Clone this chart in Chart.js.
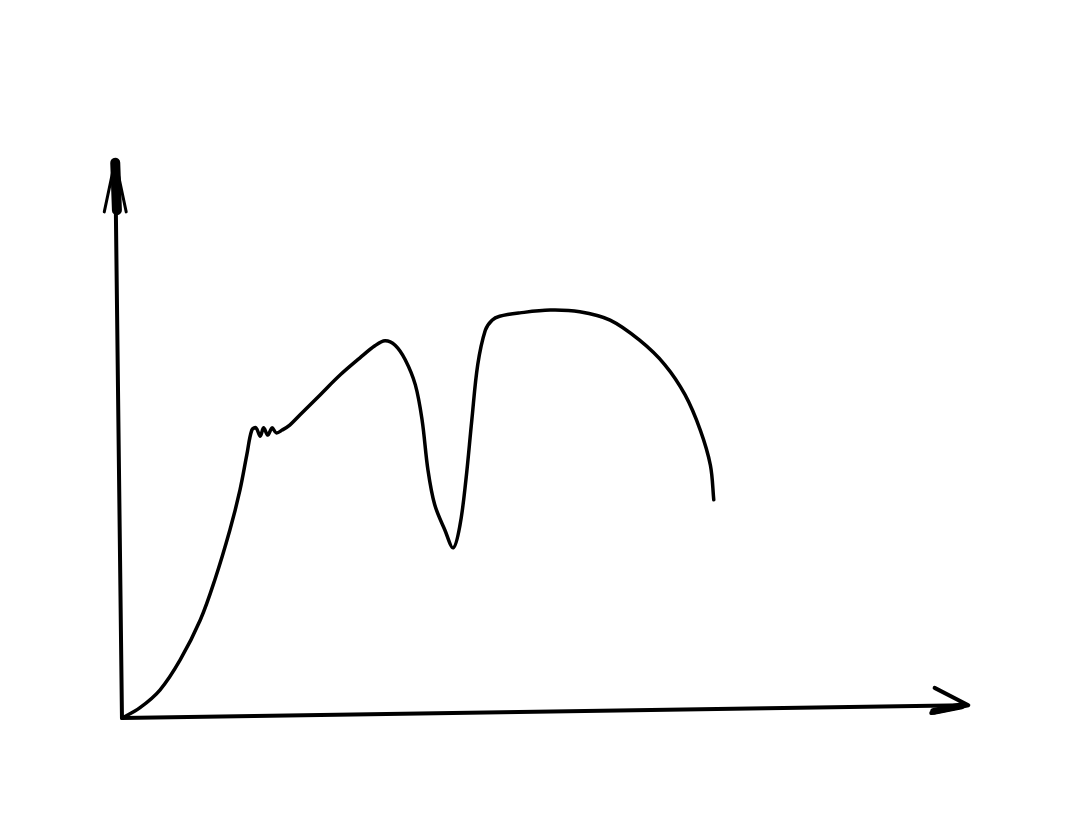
<!DOCTYPE html>
<html>
<head>
<meta charset="utf-8">
<title>Sketch curve</title>
<script src="https://cdn.jsdelivr.net/npm/chart.js@4.4.1/dist/chart.umd.min.js"></script>
<style>
	html, body { margin: 0; padding: 0; background: #fff; }
	#wrap { width: 1076px; height: 829px; }
</style>
</head>
<body>
<div id="wrap"><canvas id="sketchChart" width="1076" height="829"></canvas></div>
<script>
// hand drawn curve, in axis units (origin = where the two axes meet)
var curveX = [0, 2.1, 4.5, 6.9, 9.3, 11.0, 12.8, 14.0, 14.8, 15.4, 15.9, 16.4, 16.8, 17.3, 17.8, 18.3, 19.0, 19.9, 21.1, 23.5, 25.9, 28.2, 30.0, 31.2, 32.4, 33.6, 34.8, 35.6, 36.3, 37.1, 38.3, 39.3, 40.1, 40.8, 41.5, 42.2, 43.1, 43.9, 44.8, 47.2, 50.8, 54.3, 57.9, 61.4, 64.4, 66.8, 68.6, 69.8, 70.2];
var curveY = [0, 1.8, 5.0, 10.4, 17.6, 24.7, 33.7, 40.9, 47.1, 51.6, 52.0, 50.5, 52.0, 50.7, 52.0, 51.1, 51.6, 52.5, 54.3, 57.9, 61.5, 64.5, 66.7, 67.6, 66.8, 64.2, 59.7, 53.4, 44.4, 38.2, 33.7, 30.5, 34.6, 42.7, 53.4, 63.3, 69.5, 71.3, 72.0, 72.6, 73.1, 72.8, 71.3, 67.7, 63.3, 57.9, 51.6, 45.3, 39.1];

// the two axes and their arrow heads
var yAxisX = [0, -0.8];
var yAxisY = [0, 100];
var xAxisX = [0, 100];
var xAxisY = [0, 2.3];
var yArrowX = [-2.1, -0.8, 0.5];
var yArrowY = [90.7, 100, 90.7];
var yTipX = [-0.8, -0.6];
var yTipY = [99.5, 91];
var xArrowX = [96.4, 100.4, 96.0];
var xArrowY = [5.4, 2.3, 0.9];
var xTipX = [96.3, 99.6];
var xTipY = [1.2, 2.2];

function toPoints(xs, ys) {
	return xs.map(function (x, i) { return { x: x, y: ys[i] }; });
}

function lineSet(xs, ys, width, tension) {
	return {
		data: toPoints(xs, ys),
		showLine: true,
		borderColor: '#000',
		backgroundColor: '#000',
		borderWidth: width,
		borderCapStyle: 'round',
		borderJoinStyle: 'round',
		pointRadius: 0,
		tension: tension,
		fill: false
	};
}

var ctx = document.getElementById('sketchChart').getContext('2d');
new Chart(ctx, {
	type: 'scatter',
	data: {
		datasets: [
			lineSet(curveX, curveY, 3.5, 0.35),
			lineSet(yAxisX, yAxisY, 4, 0),
			lineSet(xAxisX, xAxisY, 4, 0),
			lineSet(yArrowX, yArrowY, 3, 0),
			lineSet(yTipX, yTipY, 10, 0),
			lineSet(xArrowX, xArrowY, 4, 0),
			lineSet(xTipX, xTipY, 7, 0)
		]
	},
	options: {
		responsive: false,
		animation: false,
		devicePixelRatio: 1,
		layout: { padding: 0 },
		plugins: {
			legend: { display: false },
			tooltip: { enabled: false }
		},
		scales: {
			x: { type: 'linear', display: false, min: -14.47, max: 113.17 },
			y: { type: 'linear', display: false, min: -19.89, max: 128.67 }
		}
	}
});
</script>
</body>
</html>
